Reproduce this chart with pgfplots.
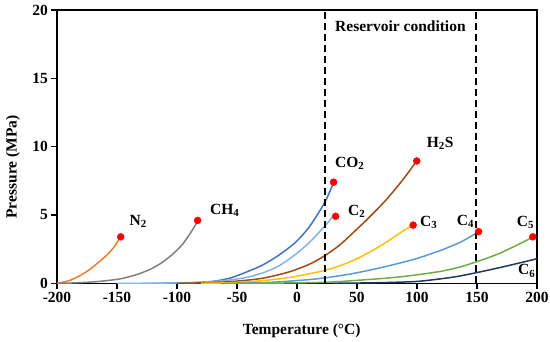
\documentclass[border=0pt]{standalone}
\usepackage{fontspec}
\setmainfont{Liberation Serif}
\usepackage{pgfplots}
\pgfplotsset{compat=1.18}
\definecolor{cN}{HTML}{ED7D31}
\definecolor{cCH}{HTML}{7F7F7F}
\definecolor{cCO}{HTML}{4472C4}
\definecolor{cCt}{HTML}{82B4E4}
\definecolor{cHS}{HTML}{A04A16}
\definecolor{cCth}{HTML}{FFC000}
\definecolor{cCf}{HTML}{5B9BD5}
\definecolor{cCfi}{HTML}{70AD47}
\definecolor{cCs}{HTML}{203864}
\begin{document}
\begin{tikzpicture}[
  lbl/.style={font=\fontsize{15.5}{17}\selectfont\bfseries, anchor=base west, inner sep=0pt}]
\path[use as bounding box] (-57pt,-58.7pt) rectangle (493pt,283.3pt);
\begin{axis}[
  at={(0pt,0pt)}, anchor=south west,
  scale only axis, width=480pt, height=273.3pt,
  xmin=-200, xmax=200, ymin=0, ymax=20,
  xtick={-200,-150,...,200}, ytick={0,5,...,20},
  minor tick num=0,
  tick pos=left, tick align=outside, major tick length=5.5pt,
  axis line style={line width=1.4pt, black},
  every tick/.style={black, line width=1.2pt},
  ticklabel style={font=\fontsize{15.5}{17}\selectfont\bfseries},
  /pgf/number format/assume math mode=true,
  /pgf/number format/1000 sep={},
  xlabel={Temperature (°C)},
  ylabel={Pressure (MPa)},
  every axis x label/.style={at={(axis description cs:0.5098,-0.172)}, anchor=center, font=\fontsize{15.5}{17}\selectfont\bfseries},
  every axis y label/.style={at={(axis description cs:-0.0917,0.4256)}, rotate=90, anchor=center, font=\fontsize{15.5}{17}\selectfont\bfseries},
  clip=true,
]
% N2
\addplot[smooth, line width=1.5pt, cN, no marks] coordinates {(-200,0.0) (-195,0.08) (-189,0.22) (-184,0.42) (-178,0.71) (-172,1.06) (-167,1.42) (-161,1.86) (-156,2.29) (-152,2.70) (-149.5,3.05) (-147.3,3.33)};
% CH4
\addplot[smooth, line width=1.5pt, cCH, no marks] coordinates {(-198,0.0) (-185,0.03) (-170,0.10) (-160,0.18) (-147.5,0.32) (-140,0.48) (-130.8,0.72) (-122,1.04) (-114.2,1.42) (-107,1.88) (-100.3,2.40) (-95,2.90) (-89.2,3.62) (-86,4.08) (-83.5,4.43)};
% CO2
\addplot[smooth, line width=1.5pt, cCO, no marks] coordinates {(-120,0.0) (-100,0.01) (-85,0.05) (-70,0.14) (-55,0.40) (-40,0.90) (-30,1.28) (-20,1.78) (-10,2.38) (0,3.10) (10,4.10) (20,5.45) (25,6.25) (29.7,7.20)};
% C2
\addplot[smooth, line width=1.5pt, cCt, no marks] coordinates {(-150,0.0) (-125,0.005) (-100,0.03) (-80,0.08) (-60,0.20) (-45,0.38) (-39,0.49) (-28,0.78) (-22.5,0.97) (-15,1.28) (-6,1.80) (3,2.42) (11,3.05) (17,3.60) (22,4.08) (26,4.48) (29.5,4.83)};
% H2S
\addplot[smooth, line width=1.5pt, cHS, no marks] coordinates {(-100,0.0) (-80,0.03) (-60,0.10) (-45,0.20) (-28,0.38) (-6,0.85) (14,1.55) (33,2.62) (47,3.72) (61,4.90) (75,6.18) (88.6,7.62) (97,8.62) (99.3,8.88)};
% C3
\addplot[smooth, line width=1.5pt, cCth, no marks] coordinates {(-80,0.0) (-60,0.03) (-40,0.12) (-28,0.20) (-10,0.38) (0,0.52) (20,0.88) (33,1.20) (47,1.68) (61,2.30) (75,3.04) (88.6,3.85) (95.5,4.23)};
% C4
\addplot[smooth, line width=1.5pt, cCf, no marks] coordinates {(-50,0.0) (-20,0.08) (0,0.20) (20,0.36) (47,0.72) (75,1.25) (100,1.82) (120,2.42) (136,3.00) (148.5,3.62)};
% C5
\addplot[smooth, line width=1.5pt, cCfi, no marks] coordinates {(-60,0.0) (0,0.03) (30,0.10) (60,0.28) (80,0.42) (100,0.62) (120,0.88) (136,1.20) (152.5,1.66) (169,2.20) (185.8,2.90) (195.5,3.33)};
% C6
\addplot[smooth, line width=1.5pt, cCs, no marks] coordinates {(30,0.0) (60,0.03) (80,0.07) (102,0.15) (130,0.45) (148,0.75) (169,1.15) (186,1.50) (200,1.80)};
% reservoir condition lines
\addplot[black, line width=1.6pt, dash pattern=on 7pt off 4pt, no marks] coordinates {(23.3,0) (23.3,20)};
\addplot[black, line width=1.6pt, dash pattern=on 7pt off 4pt, no marks] coordinates {(149.2,0) (149.2,20)};
% critical points
\addplot[only marks, mark=*, mark size=3.5pt, mark options={draw=red, fill=red}] coordinates {(-146.9,3.40) (-82.8,4.60) (30.5,7.40) (32.2,4.90) (99.8,8.95) (96.8,4.26) (151.3,3.78) (196.5,3.40)};
% labels
\node[lbl] at (axis cs:-139.7,4.26) {N\textsubscript{2}};
\node[lbl] at (axis cs:-72.5,5.06) {CH\textsubscript{4}};
\node[lbl] at (axis cs:31.7,8.49) {CO\textsubscript{2}};
\node[lbl] at (axis cs:108.1,9.95) {H\textsubscript{2}S};
\node[lbl] at (axis cs:42.5,4.99) {C\textsubscript{2}};
\node[lbl] at (axis cs:102.5,4.18) {C\textsubscript{3}};
\node[lbl] at (axis cs:133.1,4.26) {C\textsubscript{4}};
\node[lbl] at (axis cs:183.1,4.18) {C\textsubscript{5}};
\node[lbl] at (axis cs:184.2,0.61) {C\textsubscript{6}};
\node[lbl] at (axis cs:31.7,18.42) {Reservoir condition};
\end{axis}
\end{tikzpicture}
\end{document}
